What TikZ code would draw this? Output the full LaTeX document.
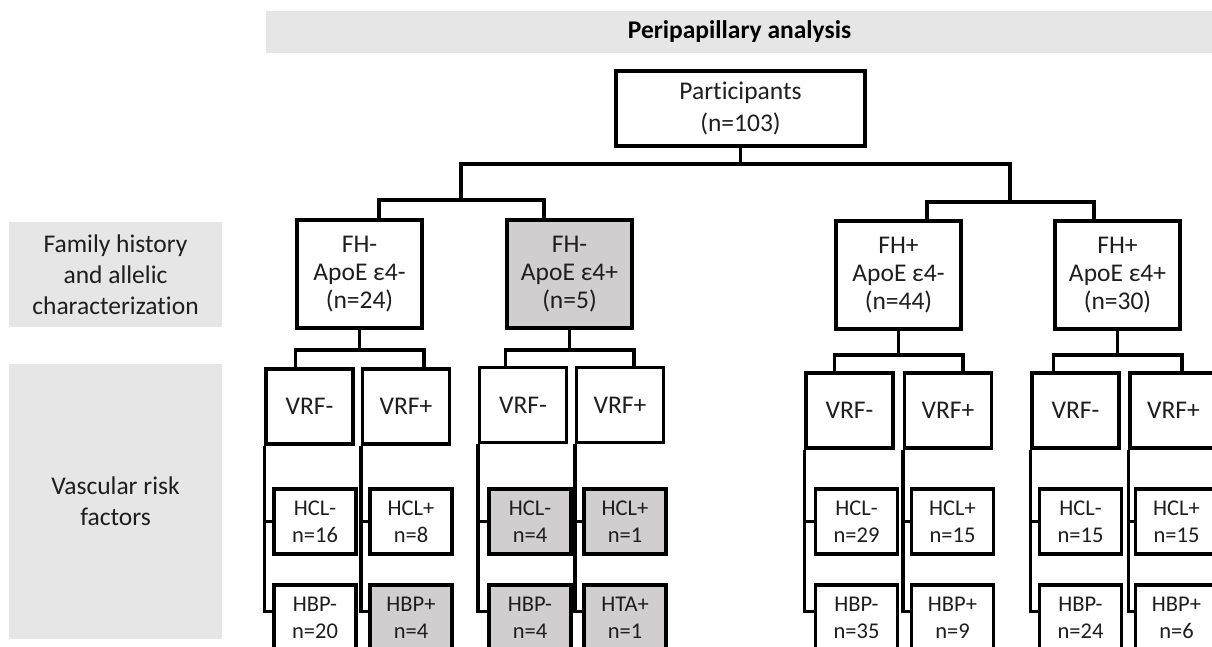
\documentclass[tikz,border=0pt]{standalone}
\usepackage{fontspec}
\setmainfont{Carlito}[Ligatures=NoCommon]
\usepackage{xcolor}
\usepackage{tikz}

\definecolor{bandgray}{HTML}{E7E6E6}
\definecolor{boxgray}{HTML}{D0CECE}
\definecolor{inkgray}{HTML}{1E1E1E}

\tikzset{
  box/.style={draw, line width=3.5pt, fill=white, text=inkgray, align=center, inner sep=0pt, font=\fontsize{25.5}{28}\selectfont},
  fhbox/.style={box, minimum width=125pt, minimum height=108pt},
  vrfbox/.style={box, minimum width=87pt, minimum height=75pt},
  nbox/.style={box, minimum width=82pt, minimum height=65pt, font=\fontsize{22.5}{27}\selectfont},
  hl/.style={fill=boxgray},
  band/.style={fill=bandgray, text=inkgray, align=center, inner sep=0pt, font=\fontsize{25.5}{31}\selectfont},
  link/.style={line width=3.5pt}
}

\begin{document}
\begin{tikzpicture}[x=1pt, y=-1pt]
            \useasboundingbox (0,0) rectangle (1212,646);
            \clip (0,0) rectangle (1212,646);

            % header and row labels
            \node[band, minimum width=947pt, minimum height=42pt, font=\fontsize{25.5}{30}\selectfont\bfseries, text=black] (title) at (739.5,32) {Peripapillary analysis};
            \node[band, minimum width=213pt, minimum height=105pt] (lab1) at (115.5,274.5) {Family history\\and allelic\\characterization};
            \node[band, minimum width=213pt, minimum height=275pt] (lab2) at (115.5,501.5) {Vascular risk\\factors};

            \node[box, minimum width=249pt, minimum height=75pt, font=\fontsize{25.5}{32}\selectfont] (parti) at (740.5,108.5) {Participants\\(n=103)};

            % FH / ApoE groups
            \node[fhbox] (fh1) at (359.5,274) {FH-\\ApoE ε4-\\(n=24)};
            \node[fhbox, hl] (fh2) at (569.5,274) {FH-\\ApoE ε4+\\(n=5)};
            \node[fhbox] (fh3) at (898.5,275) {FH+\\ApoE ε4-\\(n=44)};
            \node[fhbox] (fh4) at (1117.5,275) {FH+\\ApoE ε4+\\(n=30)};

            % VRF
            \node[vrfbox] (vrf1n) at (309.5,406.5) {VRF-};
            \node[vrfbox] (vrf1p) at (406,406.5) {VRF+};
            \node[vrfbox] (vrf2n) at (523,405) {VRF-};
            \node[vrfbox] (vrf2p) at (620,405) {VRF+};
            \node[vrfbox] (vrf3n) at (849.5,410.5) {VRF-};
            \node[vrfbox] (vrf3p) at (948,410.5) {VRF+};
            \node[vrfbox] (vrf4n) at (1075.5,410.5) {VRF-};
            \node[vrfbox] (vrf4p) at (1173.5,410.5) {VRF+};

            % HCL
            \node[nbox] (hcl1n) at (315,521.5) {HCL-\\n=16};
            \node[nbox] (hcl1p) at (411,521.5) {HCL+\\n=8};
            \node[nbox, hl] (hcl2n) at (530,521.5) {HCL-\\n=4};
            \node[nbox, hl] (hcl2p) at (625,521.5) {HCL+\\n=1};
            \node[nbox] (hcl3n) at (856.5,521.5) {HCL-\\n=29};
            \node[nbox] (hcl3p) at (952.5,521.5) {HCL+\\n=15};
            \node[nbox] (hcl4n) at (1080.5,521.5) {HCL-\\n=15};
            \node[nbox] (hcl4p) at (1176.5,521.5) {HCL+\\n=15};

            % HBP
            \node[nbox] (hbp1n) at (315,617.5) {HBP-\\n=20};
            \node[nbox, hl] (hbp1p) at (411,617.5) {HBP+\\n=4};
            \node[nbox, hl] (hbp2n) at (530,617.5) {HBP-\\n=4};
            \node[nbox, hl] (hbp2p) at (625,617.5) {HTA+\\n=1};
            \node[nbox] (hbp3n) at (856.5,617.5) {HBP-\\n=35};
            \node[nbox] (hbp3p) at (952.5,617.5) {HBP+\\n=9};
            \node[nbox] (hbp4n) at (1080.5,617.5) {HBP-\\n=24};
            \node[nbox] (hbp4p) at (1176.5,617.5) {HBP+\\n=6};

            % tree lines
            \coordinate (jl) at (461,200);
            \coordinate (jr) at (1010,202);
            \draw[link] (parti.south) -- ++(0,16) -| (jl);
            \draw[link] (parti.south) -- ++(0,16) -| (jr);
            \draw[link] (jl) -| ([xshift=19.5pt]fh1.north);
            \draw[link] (jl) -| ([xshift=-25.5pt]fh2.north);
            \draw[link] (jr) -| ([xshift=28.5pt]fh3.north);
            \draw[link] (jr) -| ([xshift=-23.5pt]fh4.north);

            \draw[link] (fh1.south) -- ++(0,20) -| (vrf1n.north -| fh1.west);
            \draw[link] (fh1.south) -- ++(0,20) -| (vrf1p.north -| fh1.east);
            \draw[link] (fh2.south) -- ++(0,20) -| (vrf2n.north -| fh2.west);
            \draw[link] (fh2.south) -- ++(0,20) -| (vrf2p.north -| fh2.east);
            \draw[link] (fh3.south) -- ++(0,24) -| (vrf3n.north -| fh3.west);
            \draw[link] (fh3.south) -- ++(0,24) -| (vrf3p.north -| fh3.east);
            \draw[link] (fh4.south) -- ++(0,24) -| (vrf4n.north -| fh4.west);
            \draw[link] (fh4.south) -- ++(0,24) -| (vrf4p.north -| fh4.east);

            \draw[link] (vrf1n.south west) |- ([yshift=6pt]hbp1n.west);
            \draw[link] (vrf1n.south west |- hcl1n.west) -- (hcl1n.west);
            \draw[link] (vrf1p.south west) |- ([yshift=6pt]hbp1p.west);
            \draw[link] (vrf1p.south west |- hcl1p.west) -- (hcl1p.west);
            \draw[link] (vrf2n.south west) |- ([yshift=6pt]hbp2n.west);
            \draw[link] (vrf2n.south west |- hcl2n.west) -- (hcl2n.west);
            \draw[link] (vrf2p.south west) |- ([yshift=6pt]hbp2p.west);
            \draw[link] (vrf2p.south west |- hcl2p.west) -- (hcl2p.west);
            \draw[link] (vrf3n.south west) |- ([yshift=6pt]hbp3n.west);
            \draw[link] (vrf3n.south west |- hcl3n.west) -- (hcl3n.west);
            \draw[link] (vrf3p.south west) |- ([yshift=6pt]hbp3p.west);
            \draw[link] (vrf3p.south west |- hcl3p.west) -- (hcl3p.west);
            \draw[link] (vrf4n.south west) |- ([yshift=6pt]hbp4n.west);
            \draw[link] (vrf4n.south west |- hcl4n.west) -- (hcl4n.west);
            \draw[link] (vrf4p.south west) |- ([yshift=6pt]hbp4p.west);
            \draw[link] (vrf4p.south west |- hcl4p.west) -- (hcl4p.west);
        \end{tikzpicture}
\end{document}
